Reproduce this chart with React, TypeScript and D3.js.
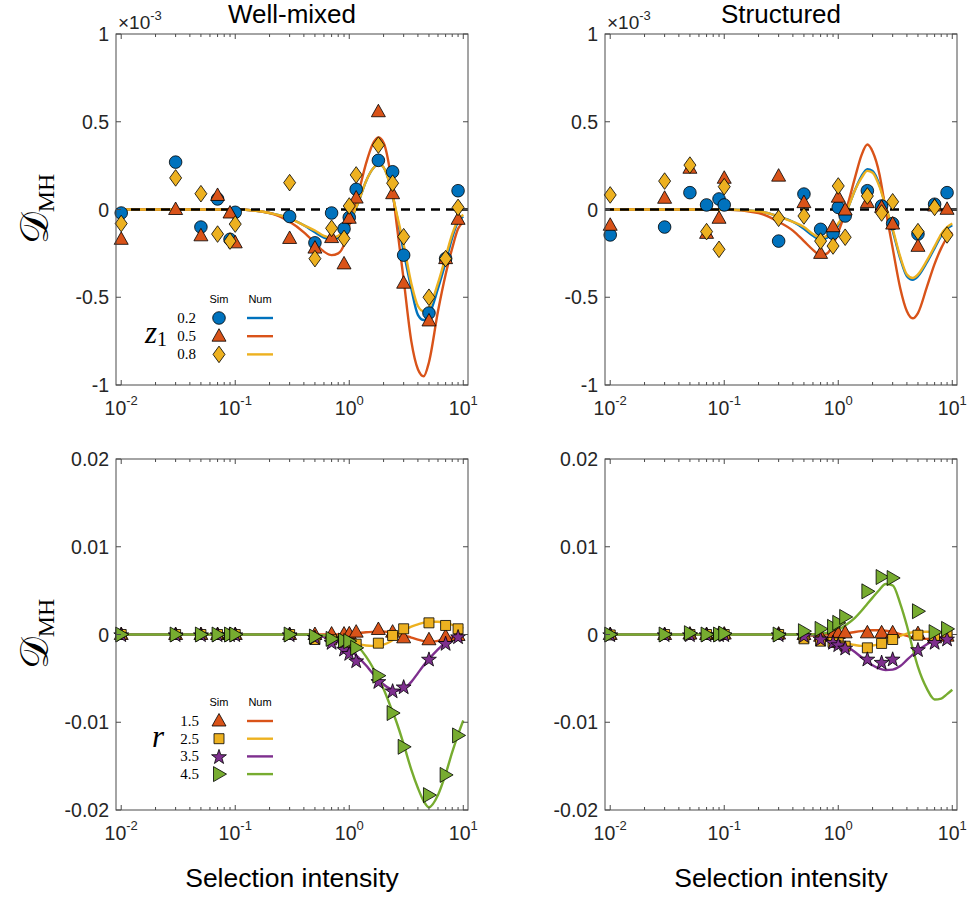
import * as d3 from 'd3';

const SANS = "'Liberation Sans', Arial, Helvetica, sans-serif";
const SERIF = "'Liberation Serif', 'Times New Roman', serif";
const AXIS = '#262626';

const BLUE = '#0072BD';
const ORANGE = '#D95319';
const YELLOW = '#EDB120';
const PURPLE = '#7E2F8E';
const GREEN = '#77AC30';

// x values of the simulation markers and of the numerical curves
const SIM_X = [0.01, 0.03, 0.05, 0.07, 0.09, 0.1, 0.3, 0.5, 0.7, 0.9, 1.0, 1.15, 1.8, 2.4, 3, 5, 7, 9];
const LINE_X = [0.01, 0.1, 0.2, 0.3, 0.4, 0.5, 0.6, 0.7, 0.8, 0.9, 1.0, 1.2, 1.4, 1.6, 1.8, 2.0, 2.3, 2.6, 3.0, 3.5, 4.0, 4.5, 5.0, 6.0, 7.0, 8.0, 9.0, 10];

// all values in units of 1e-3
// well-mixed, z1
const WM_SIM_Z02 = [-0.02, 0.27, -0.1, 0.06, -0.17, -0.016, -0.04, -0.19, -0.02, -0.11, -0.045, 0.115, 0.28, 0.215, -0.26, -0.59, -0.28, 0.107];
const WM_SIM_Z05 = [-0.17, 0.0, -0.15, 0.08, -0.02, -0.19, -0.165, -0.22, -0.16, -0.31, -0.05, 0.065, 0.557, 0.09, -0.42, -0.635, -0.28, -0.056];
const WM_SIM_Z08 = [-0.08, 0.18, 0.09, -0.14, -0.18, -0.083, 0.153, -0.28, -0.107, -0.165, 0.02, 0.197, 0.367, 0.15, -0.155, -0.5, -0.28, 0.012];
const WM_NUM_Z02 = [0, 0, -0.02, -0.05, -0.09, -0.13, -0.16, -0.17, -0.16, -0.13, -0.08, 0.04, 0.16, 0.23, 0.26, 0.24, 0.13, -0.03, -0.24, -0.45, -0.6, -0.63, -0.6, -0.45, -0.3, -0.16, -0.07, -0.04];
const WM_NUM_Z05 = [0, 0, -0.02, -0.07, -0.13, -0.19, -0.24, -0.26, -0.25, -0.2, -0.09, 0.09, 0.26, 0.37, 0.41, 0.38, 0.2, -0.08, -0.4, -0.75, -0.91, -0.95, -0.87, -0.58, -0.37, -0.22, -0.11, -0.07];
const WM_NUM_Z08 = [0, 0, -0.02, -0.05, -0.09, -0.12, -0.15, -0.16, -0.15, -0.12, -0.07, 0.04, 0.16, 0.23, 0.26, 0.24, 0.13, -0.02, -0.2, -0.42, -0.55, -0.58, -0.56, -0.42, -0.27, -0.14, -0.06, -0.03];

// structured, z1
const ST_SIM_Z02 = [-0.145, -0.1, 0.096, 0.026, 0.06, 0.026, -0.18, 0.088, -0.113, -0.136, 0.012, -0.037, 0.107, 0.02, -0.08, -0.14, 0.03, 0.096];
const ST_SIM_Z05 = [-0.09, 0.064, 0.235, -0.136, -0.05, 0.178, 0.19, 0.039, -0.25, -0.098, 0.07, -0.003, 0.039, 0.012, -0.083, -0.21, 0.02, 0.001];
const ST_SIM_Z08 = [0.083, 0.162, 0.253, -0.126, -0.227, 0.13, -0.05, -0.037, -0.18, -0.208, 0.134, -0.158, 0.077, -0.02, 0.044, -0.126, 0.012, -0.145];
const ST_NUM_Z02 = [0, 0, -0.01, -0.04, -0.07, -0.11, -0.15, -0.17, -0.16, -0.13, -0.09, 0.0, 0.11, 0.19, 0.23, 0.22, 0.14, 0.02, -0.12, -0.28, -0.38, -0.4, -0.38, -0.3, -0.22, -0.15, -0.11, -0.09];
const ST_NUM_Z05 = [0, 0, -0.02, -0.07, -0.12, -0.18, -0.23, -0.26, -0.25, -0.2, -0.13, 0.02, 0.18, 0.31, 0.37, 0.33, 0.2, 0.0, -0.22, -0.45, -0.58, -0.62, -0.59, -0.44, -0.31, -0.22, -0.16, -0.13];
const ST_NUM_Z08 = [0, 0, -0.01, -0.04, -0.07, -0.1, -0.14, -0.16, -0.15, -0.12, -0.08, 0.0, 0.11, 0.18, 0.22, 0.21, 0.13, 0.02, -0.11, -0.27, -0.37, -0.39, -0.37, -0.29, -0.21, -0.14, -0.1, -0.08];

// well-mixed, r
const WM_SIM_R15 = [0, 0, 0, 0, 0, 0, 0, 0, 0.05, 0.05, 0.08, 0.27, 0.57, 0.27, -0.38, -0.6, -0.23, -0.11];
const WM_SIM_R25 = [0, 0, 0, 0, 0, 0, 0, -0.57, -0.6, -0.9, -1.0, -1.1, -0.99, -0.11, 0.65, 1.33, 1.03, 0.65];
const WM_SIM_R35 = [0, 0, 0, 0, 0, 0, 0, -0.3, -0.88, -1.64, -2.13, -2.97, -5.33, -6.4, -5.94, -2.78, -0.99, -0.23];
const WM_SIM_R45 = [0, 0, 0, 0, 0, 0, 0, -0.23, -0.5, -0.69, -0.76, -1.52, -4.69, -8.95, -12.8, -18.3, -16.0, -11.5];
const WM_NUM_R15 = [0, 0, 0, 0, 0, 0, 0, 0, 0, 0, 0.05, 0.15, 0.25, 0.3, 0.33, 0.33, 0.28, 0.15, -0.1, -0.35, -0.58, -0.75, -0.82, -0.72, -0.5, -0.3, -0.15, -0.05];
const WM_NUM_R25 = [0, 0, 0, 0, 0, -0.05, -0.15, -0.3, -0.5, -0.7, -0.85, -1.1, -1.25, -1.3, -1.25, -1.15, -0.8, -0.25, 0.45, 0.9, 1.15, 1.35, 1.45, 1.45, 1.3, 1.1, 0.9, 0.7];
const WM_NUM_R35 = [0, 0, 0, 0, 0, -0.1, -0.3, -0.6, -0.9, -1.3, -1.7, -2.6, -3.5, -4.4, -5.1, -5.7, -6.2, -6.4, -6.2, -5.4, -4.4, -3.5, -2.8, -1.7, -0.9, -0.4, -0.15, 0];
const WM_NUM_R45 = [0, 0, 0, 0, 0, -0.05, -0.1, -0.2, -0.3, -0.45, -0.6, -1.4, -2.5, -3.7, -5.0, -6.2, -8.2, -10.0, -12.5, -15.4, -17.5, -19.0, -19.7, -18.3, -15.9, -13.4, -11.4, -9.8];

// structured, r
const ST_SIM_R15 = [0, 0, 0.05, 0, 0.05, 0.05, 0.05, 0, -0.2, 0, 0.11, 0.19, 0.19, 0.19, 0.19, 0.1, -0.38, -0.19];
const ST_SIM_R25 = [-0.05, 0, 0, 0, 0, 0, 0, -0.49, -0.76, -0.9, -0.95, -1.33, -1.52, -1.02, -0.57, -0.08, -0.19, 0.08];
const ST_SIM_R35 = [0, 0, 0, 0, 0, 0, 0, -0.1, -0.49, -0.87, -1.14, -1.52, -2.77, -3.14, -2.77, -1.7, -0.87, -0.49];
const ST_SIM_R45 = [0, 0, 0.15, 0, 0, 0.1, 0, 0.38, 0.64, 0.87, 1.33, 2.0, 4.92, 6.55, 6.44, 2.65, 0.27, 0.64];
const ST_NUM_R15 = [0, 0, 0, 0, 0, 0, 0, 0, 0, 0, 0.05, 0.15, 0.28, 0.38, 0.45, 0.48, 0.48, 0.42, 0.28, 0.05, -0.15, -0.35, -0.45, -0.5, -0.42, -0.3, -0.2, -0.12];
const ST_NUM_R25 = [0, 0, 0, 0, 0, -0.05, -0.15, -0.3, -0.45, -0.6, -0.75, -1.0, -1.2, -1.3, -1.3, -1.25, -1.1, -0.85, -0.5, -0.15, 0.1, 0.25, 0.3, 0.32, 0.3, 0.25, 0.2, 0.15];
const ST_NUM_R35 = [0, 0, 0, 0, 0, -0.05, -0.1, -0.2, -0.35, -0.55, -0.8, -1.4, -2.0, -2.6, -3.1, -3.5, -3.9, -4.05, -4.0, -3.6, -2.9, -2.3, -1.8, -1.1, -0.6, -0.3, -0.1, 0];
const ST_NUM_R45 = [0, 0, 0, 0, 0, 0, 0.02, 0.08, 0.2, 0.35, 0.55, 1.2, 1.9, 2.7, 3.5, 4.2, 5.1, 5.75, 5.6, 3.5, 1.0, -1.6, -3.7, -6.2, -7.4, -7.3, -6.8, -6.3];

const Z_LABELS = ['0.2', '0.5', '0.8'];
const R_LABELS = ['1.5', '2.5', '3.5', '4.5'];
const TOP_Y_TICKS = [-1, -0.5, 0, 0.5, 1];
const TOP_Y_LABELS = ['-1', '-0.5', '0', '0.5', '1'];
const BOT_Y_TICKS = [-0.02, -0.01, 0, 0.01, 0.02];
const BOT_Y_LABELS = ['-0.02', '-0.01', '0', '0.01', '0.02'];
const X_MAJOR = [0.01, 0.1, 1, 10];
const X_EXP = ['-2', '-1', '0', '1'];

const X_DOMAIN: [number, number] = [0.009, 11];
const PW = 352;
const PH = 351;

const starPath = (() => {
  const pts = d3.range(10).map(i => {
    const a = -Math.PI / 2 + (i * Math.PI) / 5;
    const r = i % 2 === 0 ? 7.8 : 3.1;
    return [r * Math.cos(a), r * Math.sin(a) + 0.8];
  });
  return 'M' + pts.map(p => p[0].toFixed(2) + ',' + p[1].toFixed(2)).join('L') + 'Z';
})();

const SHAPES: Record<string, string> = {
  circle: 'M6.3,0A6.3,6.3 0 1,1 -6.3,0A6.3,6.3 0 1,1 6.3,0Z',
  up: 'M0,-7.5L7,5L-7,5Z',
  diamond: 'M0,-8.3L6,0L0,8.3L-6,0Z',
  square: 'M-5,-5H5V5H-5Z',
  star: starPath,
  right: 'M-5.5,-7.5L7.5,0L-5.5,7.5Z',
};

type Curve = { values: number[]; color: string };
type Sim = { values: number[]; color: string; shape: string };

const Marker = ({ x, y, shape, color }: { x: number; y: number; shape: string; color: string }) => (
  <path d={SHAPES[shape]} transform={`translate(${x},${y})`} fill={color} stroke="#000" strokeWidth={0.8} />
);

type PanelProps = {
  x0: number;
  y0: number;
  yDomain: [number, number];
  yTicks: number[];
  yLabels: string[];
  unit: number;
  curves: Curve[];
  sims: Sim[];
  zero?: boolean;
  title?: string;
  xlabel?: string;
  exponent?: boolean;
};

const Panel = ({ x0, y0, yDomain, yTicks, yLabels, unit, curves, sims, zero, title, xlabel, exponent }: PanelProps) => {
  const x = d3.scaleLog().domain(X_DOMAIN).range([x0, x0 + PW]);
  const y = d3.scaleLinear().domain(yDomain).range([y0 + PH, y0]);
  const line = d3
    .line<number>()
    .x((_, i) => x(LINE_X[i]))
    .y(d => y(d * unit))
    .curve(d3.curveMonotoneX);

  const minor: number[] = [];
  [0.01, 0.1, 1].forEach(b => d3.range(2, 10).forEach(k => minor.push(b * k)));

  const bottom = y0 + PH;
  const right = x0 + PW;

  return (
    <g>
      {curves.map((c, i) => (
        <path key={`c${i}`} d={line(c.values) || ''} fill="none" stroke={c.color} strokeWidth={2.4} strokeLinejoin="round" />
      ))}
      {zero && (
        <line x1={x0} x2={right} y1={y(0)} y2={y(0)} stroke="#000" strokeWidth={2.3} strokeDasharray="9 6" />
      )}
      {sims.map((s, i) => (
        <g key={`s${i}`}>
          {s.values.map((v, j) => (
            <Marker key={j} x={x(SIM_X[j])} y={y(v * unit)} shape={s.shape} color={s.color} />
          ))}
        </g>
      ))}
      <rect x={x0} y={y0} width={PW} height={PH} fill="none" stroke="#4a4a4a" strokeWidth={1} />
      {X_MAJOR.map((t, i) => (
        <g key={`xm${i}`}>
          <line x1={x(t)} x2={x(t)} y1={bottom} y2={bottom - 5} stroke="#4a4a4a" />
          <line x1={x(t)} x2={x(t)} y1={y0} y2={y0 + 5} stroke="#4a4a4a" />
          <text x={x(t)} y={bottom + 30} textAnchor="middle" fontFamily={SANS} fontSize={19.5} fill={AXIS}>
            10
            <tspan fontSize={13} dy={-10}>{X_EXP[i]}</tspan>
          </text>
        </g>
      ))}
      {minor.map((t, i) => (
        <g key={`xn${i}`}>
          <line x1={x(t)} x2={x(t)} y1={bottom} y2={bottom - 3} stroke="#4a4a4a" />
          <line x1={x(t)} x2={x(t)} y1={y0} y2={y0 + 3} stroke="#4a4a4a" />
        </g>
      ))}
      {yTicks.map((t, i) => (
        <g key={`y${i}`}>
          <line x1={x0} x2={x0 + 5} y1={y(t)} y2={y(t)} stroke="#4a4a4a" />
          <line x1={right} x2={right - 5} y1={y(t)} y2={y(t)} stroke="#4a4a4a" />
          <text x={x0 - 7} y={y(t)} dy="0.36em" textAnchor="end" fontFamily={SANS} fontSize={19.5} fill={AXIS}>
            {yLabels[i]}
          </text>
        </g>
      ))}
      {exponent && (
        <text x={x0 + 2} y={y0 - 5} fontFamily={SANS} fontSize={19} fill={AXIS}>
          ×10
          <tspan fontSize={13} dy={-9}>-3</tspan>
        </text>
      )}
      {title && (
        <text x={x0 + PW / 2} y={y0 - 11} textAnchor="middle" fontFamily={SANS} fontSize={26} fill="#000">
          {title}
        </text>
      )}
      {xlabel && (
        <text x={x0 + PW / 2} y={bottom + 77} textAnchor="middle" fontFamily={SANS} fontSize={26.5} fill="#000">
          {xlabel}
        </text>
      )}
    </g>
  );
};

const YLabel = ({ cy }: { cy: number }) => (
  <text transform={`translate(48,${cy}) rotate(-90)`} textAnchor="middle" fill="#000" fontFamily={SERIF}>
    <tspan fontSize={40}>𝒟</tspan>
    <tspan fontSize={24} dy={6}>MH</tspan>
  </text>
);

type LegendProps = { top: number; step: number; labels: string[]; shapes: string[]; colors: string[]; sym: string; symY: number; numRight: number };

const Legend = ({ top, step, labels, shapes, colors, sym, symY, numRight }: LegendProps) => (
  <g>
    <text x={219} y={top - 15} textAnchor="middle" fontFamily={SANS} fontSize={11}>Sim</text>
    <text x={260} y={top - 15} textAnchor="middle" fontFamily={SANS} fontSize={11}>Num</text>
    {labels.map((l, i) => {
      const yy = top + i * step;
      return (
        <g key={l}>
          <text x={numRight} y={yy + 5} textAnchor="end" fontFamily={SERIF} fontSize={15}>{l}</text>
          <Marker x={219} y={yy} shape={shapes[i]} color={colors[i]} />
          <line x1={247} x2={273} y1={yy} y2={yy} stroke={colors[i]} strokeWidth={2.4} />
        </g>
      );
    })}
    {sym === 'z' ? (
      <text x={145} y={symY} fontFamily={SERIF} fontStyle="italic" fontSize={31}>
        z<tspan fontStyle="normal" fontSize={20} dy={3}>1</tspan>
      </text>
    ) : (
      <text x={152} y={symY} fontFamily={SERIF} fontStyle="italic" fontSize={31}>r</text>
    )}
  </g>
);

export default function App() {
  return (
    <svg width={968} height={901} style={{ position: 'absolute', left: 0, top: 0, background: '#fff' }}>
      <rect width={968} height={901} fill="#fff" />
      <Panel
        x0={116} y0={34} yDomain={[-1, 1]} yTicks={TOP_Y_TICKS} yLabels={TOP_Y_LABELS} unit={1}
        curves={[{ values: WM_NUM_Z02, color: BLUE }, { values: WM_NUM_Z05, color: ORANGE }, { values: WM_NUM_Z08, color: YELLOW }]}
        sims={[{ values: WM_SIM_Z02, color: BLUE, shape: 'circle' }, { values: WM_SIM_Z05, color: ORANGE, shape: 'up' }, { values: WM_SIM_Z08, color: YELLOW, shape: 'diamond' }]}
        zero title="Well-mixed" exponent
      />
      <Panel
        x0={605} y0={34} yDomain={[-1, 1]} yTicks={TOP_Y_TICKS} yLabels={TOP_Y_LABELS} unit={1}
        curves={[{ values: ST_NUM_Z02, color: BLUE }, { values: ST_NUM_Z05, color: ORANGE }, { values: ST_NUM_Z08, color: YELLOW }]}
        sims={[{ values: ST_SIM_Z02, color: BLUE, shape: 'circle' }, { values: ST_SIM_Z05, color: ORANGE, shape: 'up' }, { values: ST_SIM_Z08, color: YELLOW, shape: 'diamond' }]}
        zero title="Structured" exponent
      />
      <Panel
        x0={116} y0={459} yDomain={[-0.02, 0.02]} yTicks={BOT_Y_TICKS} yLabels={BOT_Y_LABELS} unit={0.001}
        curves={[{ values: WM_NUM_R15, color: ORANGE }, { values: WM_NUM_R25, color: YELLOW }, { values: WM_NUM_R35, color: PURPLE }, { values: WM_NUM_R45, color: GREEN }]}
        sims={[{ values: WM_SIM_R15, color: ORANGE, shape: 'up' }, { values: WM_SIM_R25, color: YELLOW, shape: 'square' }, { values: WM_SIM_R35, color: PURPLE, shape: 'star' }, { values: WM_SIM_R45, color: GREEN, shape: 'right' }]}
        xlabel="Selection intensity"
      />
      <Panel
        x0={605} y0={459} yDomain={[-0.02, 0.02]} yTicks={BOT_Y_TICKS} yLabels={BOT_Y_LABELS} unit={0.001}
        curves={[{ values: ST_NUM_R15, color: ORANGE }, { values: ST_NUM_R25, color: YELLOW }, { values: ST_NUM_R35, color: PURPLE }, { values: ST_NUM_R45, color: GREEN }]}
        sims={[{ values: ST_SIM_R15, color: ORANGE, shape: 'up' }, { values: ST_SIM_R25, color: YELLOW, shape: 'square' }, { values: ST_SIM_R35, color: PURPLE, shape: 'star' }, { values: ST_SIM_R45, color: GREEN, shape: 'right' }]}
        xlabel="Selection intensity"
      />
      <YLabel cy={209} />
      <YLabel cy={634} />
      <Legend top={318} step={18.2} labels={Z_LABELS} shapes={['circle', 'up', 'diamond']} colors={[BLUE, ORANGE, YELLOW]} sym="z" symY={343} numRight={196} />
      <Legend top={721} step={17.7} labels={R_LABELS} shapes={['up', 'square', 'star', 'right']} colors={[ORANGE, YELLOW, PURPLE, GREEN]} sym="r" symY={747} numRight={199} />
    </svg>
  );
}
